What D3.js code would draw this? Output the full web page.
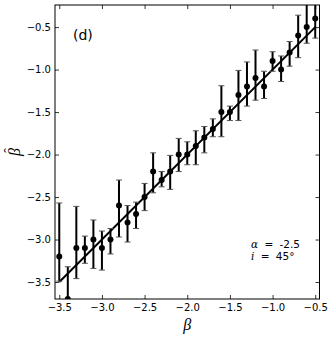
<!DOCTYPE html>
<html>
<head>
<meta charset="utf-8">
<script src="https://cdn.jsdelivr.net/npm/d3@7"></script>
<style>
  body { margin: 0; background: #fff; }
  svg { display: block; }
  text { font-family: "DejaVu Sans", sans-serif; fill: #000; }
</style>
</head>
<body>
<div id="chart"></div>
<script>
// input beta values
const beta = [-3.5, -3.4, -3.3, -3.2, -3.1, -3.0, -2.9, -2.8, -2.7, -2.6, -2.5,
              -2.4, -2.3, -2.2, -2.1, -2.0, -1.9, -1.8, -1.7, -1.6, -1.5,
              -1.4, -1.3, -1.2, -1.1, -1.0, -0.9, -0.8, -0.7, -0.6, -0.5];
// recovered beta-hat
const betaHat = [-3.2, -3.7, -3.1, -3.1, -3.0, -3.1, -3.0, -2.6, -2.8, -2.7, -2.5,
                 -2.2, -2.3, -2.2, -2.0, -2.0, -1.9, -1.8, -1.7, -1.5, -1.5,
                 -1.3, -1.2, -1.1, -1.2, -0.9, -1.0, -0.8, -0.6, -0.5, -0.4];
// error bar upper / lower ends
const errHigh = [-2.57, -3.32, -2.61, -2.96, -2.77, -2.90, -2.87, -2.30, -2.60, -2.56, -2.34,
                 -1.98, -2.20, -2.01, -1.81, -1.85, -1.72, -1.67, -1.58, -1.19, -1.43,
                 -1.01, -0.91, -0.77, -1.02, -0.79, -0.84, -0.67, -0.36, -0.15, -0.12];
const errLow = [-3.49, -4.08, -3.46, -3.28, -3.34, -3.36, -3.17, -2.97, -3.03, -2.87, -2.66,
                -2.45, -2.38, -2.41, -2.20, -2.12, -2.12, -1.98, -1.79, -1.79, -1.60,
                -1.60, -1.43, -1.36, -1.34, -1.02, -1.14, -0.96, -0.86, -0.69, -0.63];
const ticks = [-3.5, -3.0, -2.5, -2.0, -1.5, -1.0, -0.5];
const fitLine = [-3.5, -0.5];

const W = 332, H = 339;
const m = { left: 55, right: 319.5, top: 5, bottom: 299 };

const svg = d3.select("#chart").append("svg")
    .attr("width", W)
    .attr("height", H);

const x = d3.scaleLinear().domain([-3.55, -0.45]).range([m.left, m.right]);
const y = d3.scaleLinear().domain([-3.7, -0.24]).range([m.bottom, m.top]);

svg.append("clipPath").attr("id", "clip")
  .append("rect")
    .attr("x", m.left).attr("y", m.top)
    .attr("width", m.right - m.left).attr("height", m.bottom - m.top);

const plot = svg.append("g").attr("clip-path", "url(#clip)");

const minus = d => d3.format(".1f")(d).replace("-", "\u2212");

// axes with inward ticks on all four sides
const tl = 4;
svg.append("g")
    .attr("transform", "translate(0," + m.bottom + ")")
    .call(d3.axisBottom(x).tickValues(ticks).tickSize(-tl).tickPadding(5).tickFormat(minus))
    .call(g => g.select(".domain").remove());
svg.append("g")
    .attr("transform", "translate(0," + m.top + ")")
    .call(d3.axisTop(x).tickValues(ticks).tickSize(-tl).tickFormat(""))
    .call(g => g.select(".domain").remove());
svg.append("g")
    .attr("transform", "translate(" + m.left + ",0)")
    .call(d3.axisLeft(y).tickValues(ticks).tickSize(-tl).tickPadding(4).tickFormat(minus))
    .call(g => g.select(".domain").remove());
svg.append("g")
    .attr("transform", "translate(" + m.right + ",0)")
    .call(d3.axisRight(y).tickValues(ticks).tickSize(-tl).tickFormat(""))
    .call(g => g.select(".domain").remove());

svg.selectAll(".tick text")
    .style("font-size", "10px")
    .style("font-family", "DejaVu Sans, sans-serif");
svg.selectAll(".tick line").attr("stroke", "#000").attr("stroke-width", 0.8);

// fit line beta-hat = beta
plot.append("line")
    .attr("x1", x(fitLine[0])).attr("y1", y(fitLine[0]))
    .attr("x2", x(fitLine[1])).attr("y2", y(fitLine[1]))
    .attr("stroke", "#000")
    .attr("stroke-width", 2);

// error bars
const pts = beta.map((b, i) => ({ b: b, v: betaHat[i], hi: errHigh[i], lo: errLow[i] }));

plot.selectAll(".bar")
    .data(pts)
    .enter().append("line")
    .attr("class", "bar")
    .attr("x1", d => x(d.b)).attr("x2", d => x(d.b))
    .attr("y1", d => y(d.hi)).attr("y2", d => y(d.lo))
    .attr("stroke", "#000")
    .attr("stroke-width", 2);

const cap = 3;
["hi", "lo"].forEach(k => {
  plot.selectAll(".cap-" + k)
      .data(pts)
      .enter().append("line")
      .attr("class", "cap-" + k)
      .attr("x1", d => x(d.b) - cap).attr("x2", d => x(d.b) + cap)
      .attr("y1", d => y(d[k])).attr("y2", d => y(d[k]))
      .attr("stroke", "#555")
      .attr("stroke-width", 1);
});

plot.selectAll(".dot")
    .data(pts)
    .enter().append("circle")
    .attr("class", "dot")
    .attr("cx", d => x(d.b))
    .attr("cy", d => y(d.v))
    .attr("r", 3)
    .attr("fill", "#000");

// frame
svg.append("rect")
    .attr("x", m.left).attr("y", m.top)
    .attr("width", m.right - m.left).attr("height", m.bottom - m.top)
    .attr("fill", "none")
    .attr("stroke", "#000")
    .attr("stroke-width", 1);

// panel label
svg.append("text")
    .attr("x", 73).attr("y", 40)
    .style("font-size", "14px")
    .text("(d)");

// annotation
const ann = svg.append("text").style("font-size", "10.5px").style("word-spacing", "3px");
ann.append("tspan").attr("x", 251).attr("y", 248)
    .style("font-family", "DejaVu Serif, serif").style("font-style", "italic").text("\u03b1");
ann.append("tspan").text(" = -2.5");
const ann2 = svg.append("text").style("font-size", "10.5px").style("word-spacing", "3px");
ann2.append("tspan").attr("x", 251).attr("y", 259.5)
    .style("font-family", "DejaVu Serif, serif").style("font-style", "italic").text("i");
ann2.append("tspan").text(" = 45\u00b0");

// axis labels
svg.append("text")
    .attr("x", (m.left + m.right) / 2).attr("y", 330)
    .attr("text-anchor", "middle")
    .style("font-family", "Liberation Serif, serif")
    .style("font-style", "italic")
    .style("font-size", "16px")
    .text("\u03b2");

const yl = svg.append("g")
    .attr("transform", "translate(20," + ((m.top + m.bottom) / 2) + ") rotate(-90)");
yl.append("text")
    .attr("text-anchor", "middle")
    .style("font-family", "Liberation Serif, serif")
    .style("font-style", "italic")
    .style("font-size", "16px")
    .text("\u03b2");
yl.append("text")
    .attr("x", 1.5).attr("y", -6)
    .attr("text-anchor", "middle")
    .style("font-family", "Liberation Serif, serif")
    .style("font-size", "14px")
    .text("\u02c6");
</script>
</body>
</html>
